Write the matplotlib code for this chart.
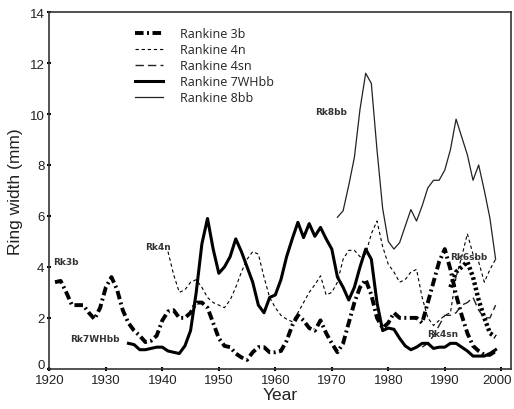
import matplotlib
matplotlib.use("Agg")
import matplotlib.pyplot as plt
import matplotlib.transforms as mtransforms

# ring widths (mm)
yrs_3b = list(range(1921, 2000))
rk3b = [3.4, 3.45, 3.0, 2.5, 2.5, 2.5, 2.2, 1.95, 2.4, 3.2,
        3.6, 3.1, 2.3, 1.8, 1.5, 1.3, 1.05, 1.1, 1.3, 1.9,
        2.25, 2.3, 2.0, 2.0, 2.2, 2.6, 2.6, 2.4, 1.8, 1.2,
        0.9, 0.85, 0.6, 0.45, 0.35, 0.65, 0.85, 0.85, 0.65, 0.65,
        0.7, 1.1, 1.7, 2.1, 1.9, 1.6, 1.5, 1.9, 1.4, 1.0,
        0.65, 1.0, 1.8, 2.6, 3.2, 3.5, 2.9, 2.0, 1.6, 1.8,
        2.2, 2.0, 2.0, 2.0, 2.0, 1.8, 2.6, 3.4, 4.2, 4.7,
        3.9, 2.9, 2.1, 1.4, 0.9, 0.7, 0.55, 0.55, 0.7]

yrs_4n = list(range(1941, 2000))
rk4n = [4.6, 3.7, 3.0, 3.1, 3.4, 3.5, 3.2, 2.8, 2.6, 2.5,
        2.4, 2.7, 3.2, 3.8, 4.3, 4.6, 4.5, 3.6, 2.8, 2.4,
        2.1, 1.95, 1.85, 2.2, 2.6, 3.0, 3.3, 3.65, 2.9, 3.0,
        3.4, 4.3, 4.65, 4.65, 4.4, 4.5, 5.3, 5.8, 4.8, 4.1,
        3.8, 3.4, 3.5, 3.8, 3.9, 2.8, 2.0, 1.7, 1.9, 2.1,
        2.2, 3.6, 4.4, 5.3, 4.5, 4.2, 3.4, 3.9, 4.3]

yrs_4sn = list(range(1986, 2000))
rk4sn = [0.85, 1.0, 1.3, 1.7, 2.1, 2.1, 2.2, 2.5, 2.6, 2.8,
         2.3, 2.0, 2.0, 2.5]

yrs_7wh = list(range(1934, 2000))
rk7wh = [1.0, 0.95, 0.75, 0.75, 0.8, 0.85, 0.85, 0.7, 0.65, 0.6,
         0.9, 1.5, 3.0, 4.9, 5.9, 4.7, 3.75, 4.0, 4.4, 5.1,
         4.6, 4.0, 3.4, 2.5, 2.2, 2.8, 2.9, 3.5, 4.4, 5.1,
         5.75, 5.15, 5.7, 5.2, 5.55, 5.1, 4.7, 3.6, 3.2, 2.7,
         3.2, 4.0, 4.7, 4.3, 2.6, 1.5, 1.6, 1.55, 1.2, 0.9,
         0.75, 0.85, 1.0, 1.0, 0.8, 0.85, 0.85, 1.0, 1.0, 0.85,
         0.7, 0.5, 0.5, 0.5, 0.6, 0.75]

yrs_8bb = list(range(1971, 2000))
rk8bb = [5.95, 6.2, 7.2, 8.3, 10.2, 11.6, 11.2, 8.6, 6.3, 5.0,
         4.7, 4.95, 5.6, 6.25, 5.8, 6.4, 7.1, 7.4, 7.4, 7.8,
         8.6, 9.8, 9.1, 8.4, 7.4, 8.0, 7.0, 5.9, 4.3]

yrs_6sbb = list(range(1991, 2000))
rk6sbb = [3.2, 3.8, 4.0, 4.2, 3.6, 2.7, 2.0, 1.4, 1.25]

plt.rcParams['font.family'] = ['Liberation Sans', 'DejaVu Sans']

fig, ax = plt.subplots(figsize=(5.14, 4.10), dpi=100)
fig.subplots_adjust(left=0.096, right=0.995, top=0.968, bottom=0.098)

ax.plot(yrs_3b, rk3b, color='black', lw=2.8, ls=(0, (2.2, 0.9, 0.5, 0.9)),
        label='Rankine 3b')
ax.plot(yrs_4n, rk4n, color='black', lw=0.8, ls=(0, (3, 2.5)),
        label='Rankine 4n')
ax.plot(yrs_4sn, rk4sn, color='#222222', lw=1.0, ls=(0, (6, 3)),
        label='Rankine 4sn')
ax.plot(yrs_7wh, rk7wh, color='black', lw=2.2, label='Rankine 7WHbb')
ax.plot(yrs_8bb, rk8bb, color='#222222', lw=0.9, label='Rankine 8bb')
ax.plot(yrs_6sbb, rk6sbb, color='black', lw=3.2, ls=(0, (0.6, 0.6)))

# series labels
lbl = dict(fontsize=6.5, fontweight='bold', color='#333333',
           family='DejaVu Sans')
ax.text(1920.6, 4.1, 'Rk3b', **lbl)
ax.text(1937.0, 4.7, 'Rk4n', **lbl)
ax.text(1923.6, 1.1, 'Rk7WHbb', **lbl)
ax.text(1967.0, 10.0, 'Rk8bb', **lbl)
ax.text(1990.9, 4.3, 'Rk6sbb', **lbl)
ax.text(1986.9, 1.3, 'Rk4sn', **lbl)

ax.set_xlim(1920, 2001.8)
ax.set_ylim(0, 14)
ax.set_xticks(range(1920, 2001, 10))
ax.set_yticks(range(0, 15, 2))
ax.tick_params(direction='inout', length=3, width=1.5, labelsize=9.5,
               colors='black', labelcolor='#222222', pad=2)
for s in ax.spines.values():
    s.set_linewidth(1.2)
    s.set_color('#333333')

# nudge the corner labels: "0" up a bit, "2000" in from the edge
fig.canvas.draw()
zero = ax.get_yticklabels()[0]
zero.set_transform(zero.get_transform()
                   + mtransforms.ScaledTranslation(0, 5 / 100, fig.dpi_scale_trans))
last = ax.get_xticklabels()[-1]
last.set_transform(last.get_transform()
                   + mtransforms.ScaledTranslation(-4 / 100, 0, fig.dpi_scale_trans))

ax.set_xlabel('Year', fontsize=12.5, color='#222222', labelpad=1)
ax.set_ylabel('Ring width (mm)', fontsize=12.5, color='#222222', labelpad=5)

leg = ax.legend(loc='upper left', bbox_to_anchor=(0.16, 0.99), frameon=False,
                handlelength=2.3, handletextpad=1.3, labelspacing=0.25,
                prop={'family': 'Open Sans', 'size': 9})
for t in leg.get_texts():
    t.set_color('#222222')

fig.savefig('out.png', dpi=100)
